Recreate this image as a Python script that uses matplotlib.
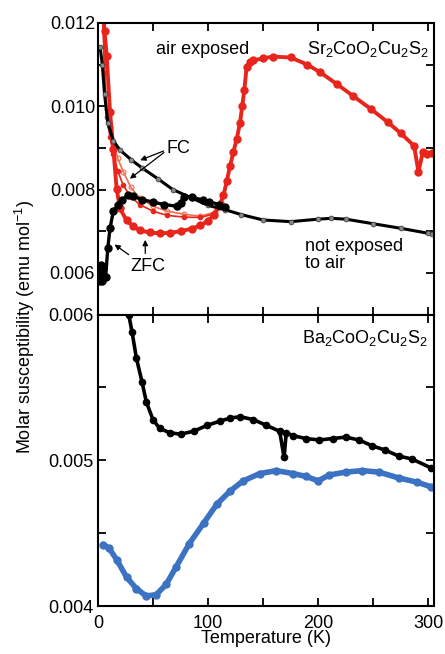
import numpy as np
import matplotlib
matplotlib.use('Agg')
import matplotlib.pyplot as plt
from matplotlib.ticker import MultipleLocator, FormatStrFormatter

plt.rcParams['font.family'] = ['Liberation Sans', 'DejaVu Sans']
plt.rcParams['mathtext.fontset'] = 'custom'
plt.rcParams['mathtext.rm'] = 'Liberation Sans'
plt.rcParams['mathtext.it'] = 'Liberation Sans:italic'
plt.rcParams['font.size'] = 13

RED = '#e8251d'
BLUE = '#3b72c2'

# Sr2CoO2Cu2S2, not exposed to air
sr_fc_T = [2, 4, 6, 9, 14, 20, 30, 40, 55, 68, 85, 100, 115, 130, 150, 175, 200, 212, 225, 250, 275, 300, 303]
sr_fc_chi = [0.01143, 0.0110, 0.0103, 0.0096, 0.00917, 0.00895, 0.00872, 0.00852, 0.00825, 0.00800, 0.00780, 0.00762,
             0.00752, 0.00740, 0.00727, 0.00723, 0.00729, 0.00731, 0.00729, 0.00718, 0.00707, 0.00695, 0.00693]
sr_zfc_T = [2, 3, 4, 5, 7, 9, 11, 14, 18, 22, 27, 32, 40, 50, 60, 72, 75, 78, 85, 95, 101, 110, 115]
sr_zfc_chi = [0.0058, 0.0062, 0.0058, 0.0061, 0.0059, 0.0066, 0.00707, 0.00748, 0.00762, 0.00775, 0.00786, 0.00784,
              0.00776, 0.00770, 0.00764, 0.00760, 0.00768, 0.00783, 0.00782, 0.00775, 0.00771, 0.00764, 0.00757]

# Sr2CoO2Cu2S2, air exposed
air_zfc_T = [4, 6, 8, 11, 14, 17, 20, 26, 32, 38, 47, 56, 65, 75, 85, 93, 100, 105, 110, 114, 117, 120, 123, 126, 129,
             131, 133, 135, 138, 141, 150, 159, 175, 190, 202, 217, 232, 248, 263, 275, 287, 291, 295, 299, 303]
air_zfc_chi = [0.0125, 0.0118, 0.0112, 0.00986, 0.00898, 0.00802, 0.00755, 0.00726, 0.00712, 0.00702, 0.00697,
               0.00695, 0.00696, 0.00700, 0.00706, 0.00714, 0.00725, 0.00738, 0.00760, 0.00786, 0.00820, 0.00857,
               0.00890, 0.00921, 0.00960, 0.01000, 0.01040, 0.01095, 0.01105, 0.01110, 0.01115, 0.01119, 0.01117,
               0.01100, 0.01081, 0.01053, 0.01024, 0.00993, 0.00962, 0.00935, 0.00905, 0.00843, 0.00890, 0.00885, 0.00887]
air_fc_T = [4, 6, 8, 11, 14, 18, 23, 30, 38, 50, 63, 78, 93, 106, 112]
air_fc_chi = [0.0125, 0.0110, 0.00993, 0.00950, 0.00914, 0.00875, 0.00843, 0.00805, 0.00779, 0.00760, 0.00748,
              0.00741, 0.00736, 0.00746, 0.00770]
air_fc2_T = [4, 6, 8, 11, 14, 18, 23, 30, 38, 50, 63, 78, 93, 106, 112]
air_fc2_chi = [0.0125, 0.0108, 0.00975, 0.00925, 0.00885, 0.00845, 0.00810, 0.00782, 0.00764, 0.00748, 0.00738,
               0.00734, 0.00733, 0.00742, 0.00768]

# Ba2CoO2Cu2S2
ba_black_T = [28, 31, 35, 40, 44, 50, 56, 65, 75, 87, 99, 111, 120, 129, 141, 153, 165, 169, 171, 177, 189, 201,
              213, 225, 237, 249, 261, 273, 285, 302]
ba_black_chi = [0.0060, 0.00588, 0.00570, 0.00554, 0.00540, 0.00528, 0.00522, 0.00519, 0.00518, 0.00520, 0.00524,
                0.00527, 0.00529, 0.00530, 0.00528, 0.00524, 0.00520, 0.00502, 0.00519, 0.00517, 0.00515, 0.00514,
                0.00515, 0.00516, 0.00514, 0.00510, 0.00507, 0.00503, 0.00501, 0.00495]
ba_blue_T = [5, 10, 17, 26, 35, 44, 53, 62, 71, 83, 96, 108, 120, 132, 147, 162, 177, 189, 200, 210, 225, 240, 255,
             273, 290, 302]
ba_blue_chi = [0.00442, 0.00440, 0.00432, 0.00420, 0.00412, 0.00407, 0.00408, 0.00415, 0.00427, 0.00443, 0.00457,
               0.00470, 0.00479, 0.00486, 0.00491, 0.00493, 0.00491, 0.00489, 0.00486, 0.00490, 0.00492, 0.00493,
               0.00492, 0.00488, 0.00485, 0.00482]

fig = plt.figure(figsize=(4.45, 6.54), dpi=100)
gs = fig.add_gridspec(2, 1, left=0.22, right=0.975, top=0.965, bottom=0.073, hspace=0)
ax1 = fig.add_subplot(gs[0])
ax2 = fig.add_subplot(gs[1], sharex=ax1)

# top panel
ax1.plot(air_fc_T, air_fc_chi, '-o', color='#f07050', lw=1.2, ms=3.5, mfc='none', mew=0.8)
ax1.plot(air_fc2_T, air_fc2_chi, '-o', color=RED, lw=1.2, ms=3)
ax1.plot(air_zfc_T, air_zfc_chi, '-o', color=RED, lw=2.8, ms=5)
ax1.plot(sr_fc_T, sr_fc_chi, '-o', color='black', lw=2.2, ms=3.5, mfc='#888888', mec='#333333', mew=0.5)
ax1.plot(sr_zfc_T, sr_zfc_chi, '-o', color='black', lw=2.4, ms=5)

ax1.text(95, 0.01136, 'air exposed', ha='center', va='center')
ax1.text(300, 0.01138, r'Sr$_2$CoO$_2$Cu$_2$S$_2$', ha='right', va='center')
ax1.text(188, 0.00644, 'not exposed\nto air', ha='left', va='center', linespacing=1.0)
ax1.text(62, 0.00898, 'FC', ha='left', va='center')
ax1.text(45, 0.00615, 'ZFC', ha='center', va='center')
arr = dict(arrowstyle='-|>', color='black', lw=0.9, mutation_scale=8)
ax1.annotate('', xy=(36, 0.00868), xytext=(62, 0.00895), arrowprops=arr)
ax1.annotate('', xy=(27, 0.00822), xytext=(62, 0.00893), arrowprops=arr)
ax1.annotate('', xy=(13, 0.00672), xytext=(30, 0.0064), arrowprops=arr)
ax1.annotate('', xy=(43, 0.00686), xytext=(43, 0.0064), arrowprops=arr)

ax1.set_ylim(0.005, 0.012)
ax1.yaxis.set_major_locator(MultipleLocator(0.002))
ax1.yaxis.set_minor_locator(MultipleLocator(0.001))
ax1.yaxis.set_major_formatter(FormatStrFormatter('%.3f'))
ax1.tick_params(labelbottom=False)

# bottom panel
ax2.plot(ba_blue_T, ba_blue_chi, '-o', color=BLUE, lw=4.0, ms=5)
ax2.plot(ba_black_T, ba_black_chi, '-o', color='black', lw=2.6, ms=4.5)
ax2.text(299, 0.00584, r'Ba$_2$CoO$_2$Cu$_2$S$_2$', ha='right', va='center')

ax2.set_ylim(0.004, 0.006)
ax2.yaxis.set_major_locator(MultipleLocator(0.001))
ax2.yaxis.set_minor_locator(MultipleLocator(0.0005))
ax2.yaxis.set_major_formatter(FormatStrFormatter('%.3f'))
ax2.set_xlim(0, 305)
ax2.xaxis.set_major_locator(MultipleLocator(100))
ax2.xaxis.set_minor_locator(MultipleLocator(50))
ax2.set_xlabel('Temperature (K)', labelpad=-1)

for ax in (ax1, ax2):
    ax.tick_params(which='both', direction='in', top=True, right=True, width=1.3, labelsize=13, pad=2, length=6)
    for s in ax.spines.values():
        s.set_linewidth(1.5)
ax2.tick_params(axis='x', pad=6)
ax2.tick_params(axis='y', pad=3)

fig.text(0.055, 0.5, r'Molar susceptibility (emu mol$^{\mathregular{-1}}$)', rotation=90, ha='center', va='center')

fig.savefig('out.png', dpi=100)
